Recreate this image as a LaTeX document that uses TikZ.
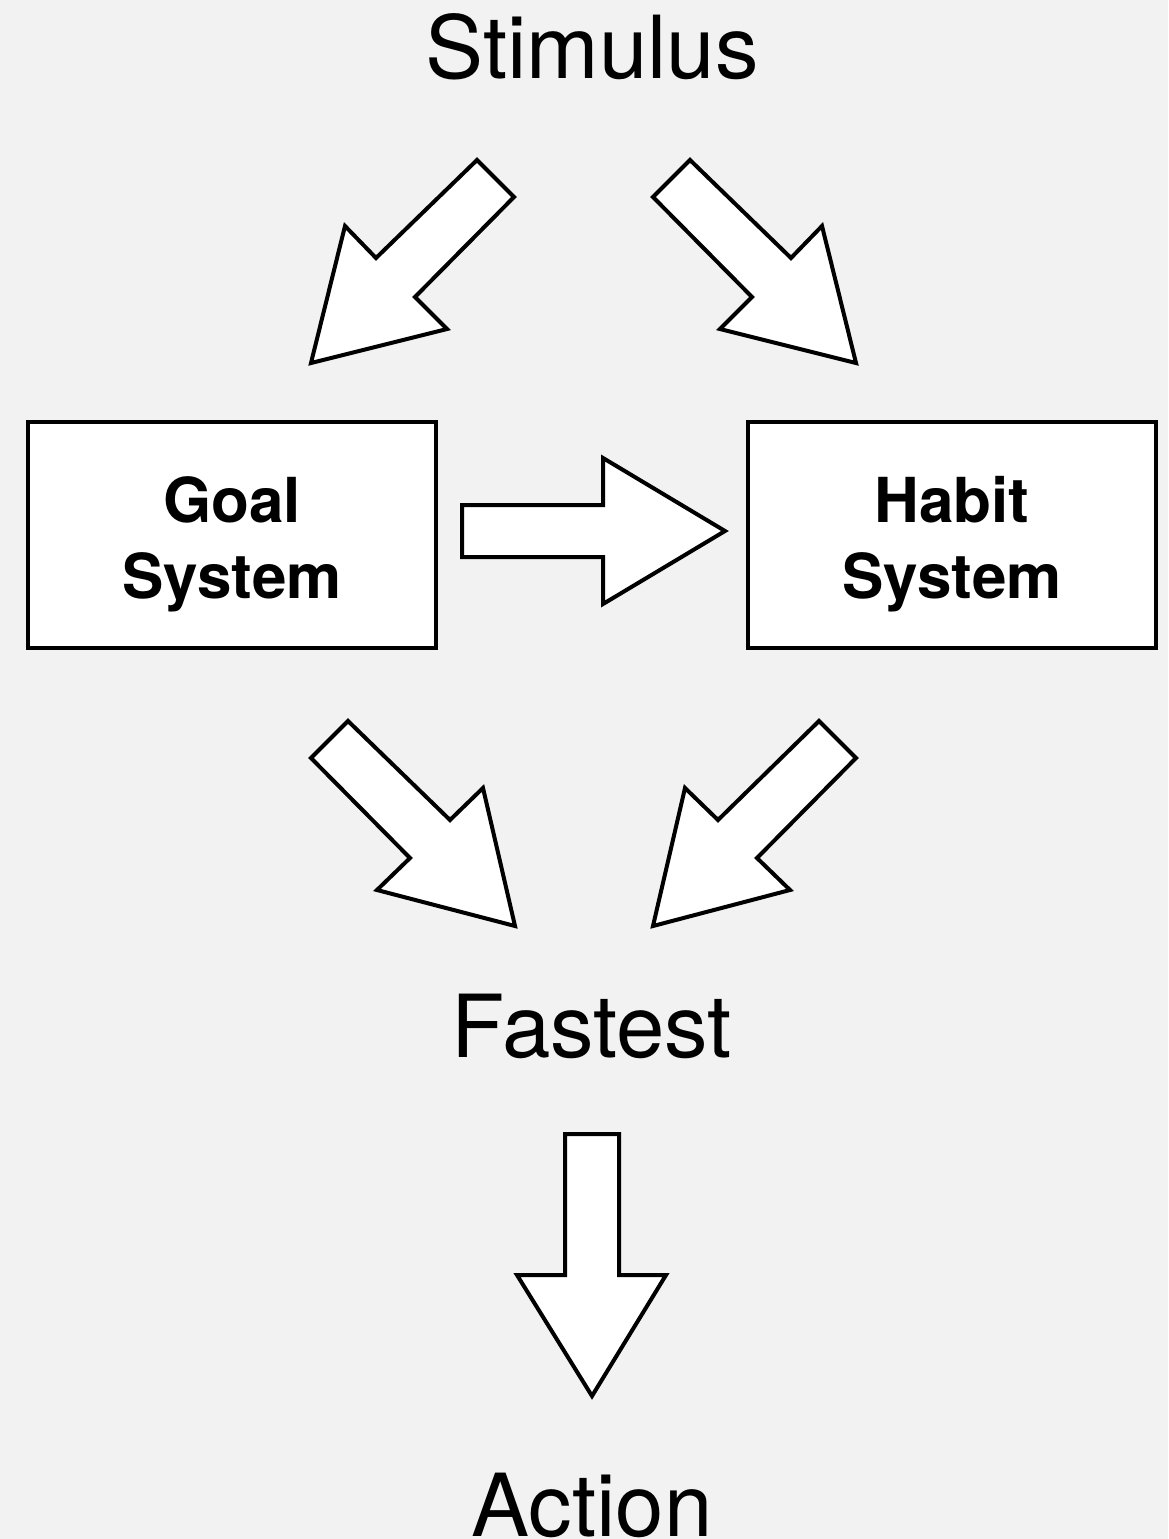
\documentclass[tikz,border=0pt]{standalone}
\usepackage{fontspec}
\setmainfont{TeX Gyre Heros}
\begin{document}
\begin{tikzpicture}[x=1pt,y=-1pt,
  blockarrow/.style={draw=black,fill=white,line width=4pt,line join=miter},
  sysbox/.style={draw=black,fill=white,line width=4pt,minimum width=408pt,minimum height=226pt,inner sep=0pt},
  boxtext/.style={align=center,font=\fontsize{62}{76}\selectfont\bfseries,inner sep=0pt},
  bigtext/.style={anchor=base,font=\fontsize{87}{100}\selectfont,inner sep=0pt}]
\fill[fill={rgb,255:red,242;green,242;blue,242}] (0,0) rectangle (1168,1539);
\useasboundingbox (0,0) rectangle (1168,1539);
\node[bigtext] (stim) at (592,78) {Stimulus};
\node[bigtext] (fast) at (592,1057) {Fastest};
\node[bigtext] (act) at (592,1536) {Action};
\node[sysbox] (goal) at (232,535) {};
\node[sysbox] (habit) at (952,535) {};
\node[boxtext] (goaltext) at (232,544) {Goal\\System};
\node[boxtext] (habittext) at (952,544) {Habit\\System};
% top-left arrow
\draw[blockarrow] (477,160) -- (514,197) -- (415,297) -- (447,329) -- (311,363) -- (345,226) -- (376,258) -- cycle;
% top-right arrow
\draw[blockarrow] (690,160) -- (653,197) -- (752,297) -- (720,329) -- (856,363) -- (822,226) -- (791,258) -- cycle;
% middle arrow
\draw[blockarrow] (462,505) -- (603,505) -- (603,458) -- (725,531) -- (603,604) -- (603,557) -- (462,557) -- cycle;
% bottom-left arrow
\draw[blockarrow] (348,721) -- (311,758) -- (410,858) -- (377,890) -- (515,926) -- (483,788) -- (450,820) -- cycle;
% bottom-right arrow
\draw[blockarrow] (819,721) -- (856,758) -- (757,858) -- (790,890) -- (653,926) -- (685,788) -- (718,820) -- cycle;
% bottom vertical arrow
\draw[blockarrow] (565,1134) -- (619,1134) -- (619,1275) -- (666,1275) -- (592,1396) -- (517,1275) -- (565,1275) -- cycle;
\end{tikzpicture}
\end{document}
